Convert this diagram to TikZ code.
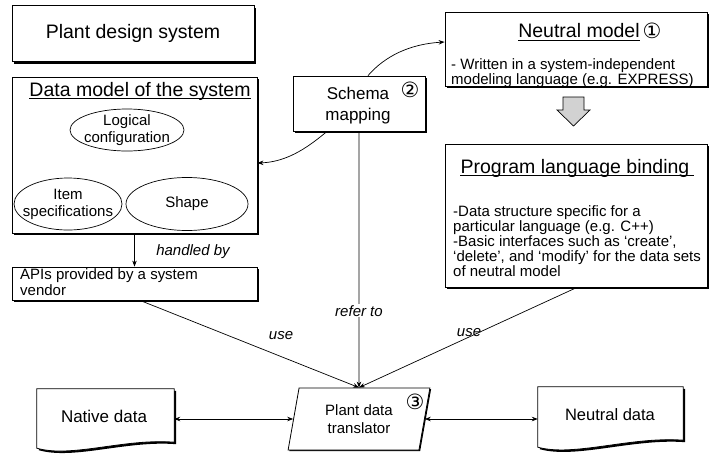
\documentclass[tikz,border=0pt]{standalone}
\usepackage{fontspec}
\setmainfont{Liberation Sans}
\newfontfamily\circfont{DejaVu Sans}
\usetikzlibrary{shapes.geometric,shadows,calc,arrows.meta}
\begin{document}
\begin{tikzpicture}[x=1pt,y=-1pt,
  shad/.style={drop shadow={shadow xshift=2pt,shadow yshift=-2pt,fill=black,opacity=1}},
  box/.style={draw,line width=0.8pt,fill=white,rectangle,inner sep=0pt,shad},
  ell/.style={draw,line width=0.7pt,ellipse,inner sep=0pt},
  elltxt/.style={inner sep=0pt,align=center,font=\fontsize{15}{17}\selectfont},
  ttl/.style={inner sep=0pt,font=\fontsize{19.5}{22}\selectfont},
  body/.style={inner sep=0pt,align=left,anchor=north west,font=\fontsize{15}{15}\selectfont},
  lbl/.style={inner sep=1pt,font=\fontsize{15}{15}\selectfont\itshape},
  arr/.style={line width=0.7pt,-{Stealth[length=6pt,width=4.5pt]}},
  darr/.style={line width=0.7pt,{Stealth[length=6pt,width=4.5pt]}-{Stealth[length=6pt,width=4.5pt]}},
  circ/.style={inner sep=0pt,font=\circfont\fontsize{21}{21}\selectfont},
]
\useasboundingbox[fill=white] (0,0) rectangle (713,453);

% Plant design system
\node[box,minimum width=242pt,minimum height=56pt,ttl] (pds) at (133,33.5) {Plant design system};

% Data model box
\node[box,minimum width=245pt,minimum height=156pt] (dm) at (134.5,155) {};
\node[ttl] (dmtitle) at (140,91) {Data model of the system};
\draw[line width=0.7pt] ([yshift=-2.5pt]dmtitle.base west) -- ([yshift=-2.5pt]dmtitle.base east);
\node[ell,minimum width=114pt,minimum height=42pt] (logic) at (127,130) {};
\node[elltxt] (logictxt) at (logic) {Logical\\configuration};
\node[ell,minimum width=108pt,minimum height=52pt] (item) at (68,204) {};
\node[elltxt] (itemtxt) at (item) {Item\\specifications};
\node[ell,minimum width=122pt,minimum height=53pt] (shape) at (187,204) {};
\node[elltxt] (shapetxt) at (shape) {Shape};

% Schema mapping
\node[box,minimum width=132pt,minimum height=55pt] (schema) at (359,103.5) {};
\node[inner sep=0pt,align=center,font=\fontsize{17}{21}\selectfont] (schematxt) at (358,106) {Schema\\mapping};
\node[circ] (c2) at (410,90) {②};

% Neutral model
\node[box,minimum width=262pt,minimum height=74pt] (nm) at (576,49) {};
\node[ttl] (nmtitle) at (579,31) {Neutral model};
\draw[line width=0.7pt] ([yshift=-2.5pt]nmtitle.base west) -- ([yshift=-2.5pt]nmtitle.base east);
\node[circ] (c1) at (652,31) {①};
\node[body] (nmbody) at (451,58) {- Written in a system-independent\\modeling language (e.g. EXPRESS)};

% gray block arrow
\draw[line width=0.7pt,fill=gray!35] (563,97) -- (584,97) -- (584,110) -- (590,110) -- (573.5,126) -- (557,110) -- (563,110) -- cycle;

% Program language binding
\node[box,minimum width=262pt,minimum height=143pt] (plb) at (576,215.5) {};
\node[ttl] (plbtitle) at (575,168) {Program language binding};
\draw[line width=0.7pt] ([yshift=-2.5pt]plbtitle.base west) -- ([yshift=-2.5pt,xshift=4pt]plbtitle.base east);
\node[body] (plbbody) at (453,205) {-Data structure specific for a\\particular language (e.g. C++)\\-Basic interfaces such as ‘create’,\\‘delete’, and ‘modify’ for the data sets\\of neutral model};

% APIs
\node[box,minimum width=245pt,minimum height=33pt] (apis) at (134.5,283.5) {};
\node[body,font=\fontsize{15}{16.5}\selectfont] (apistxt) at (20,268) {APIs provided by a system\\vendor};

% Translator
\node[trapezium,trapezium left angle=78,trapezium right angle=102,trapezium stretches=true,
      minimum width=142pt,minimum height=62pt,draw,line width=0.8pt,fill=white,inner sep=0pt,
      drop shadow={shadow xshift=1.2pt,shadow yshift=-1.2pt,fill=black,opacity=1},
      align=center,font=\fontsize{15}{18}\selectfont] (trans) at (359,419) {Plant data\\translator};
\node[circ] (c3) at (415,402) {③};

% Native data
\node[minimum width=137pt,minimum height=59pt,inner sep=0pt] (native) at (105.5,418.5) {};
\draw[line width=0.8pt,fill=white,shad] (native.north west) -- (native.north east) -- ($(native.south east)+(0,-6)$)
  .. controls ($(native.south east)+(-50,-10)$) and ($(native.south west)+(35,10)$) .. (native.south west) -- cycle;
\node[inner sep=0pt,font=\fontsize{17}{20}\selectfont] (nativetxt) at (104,416) {Native data};

% Neutral data
\node[minimum width=145pt,minimum height=60pt,inner sep=0pt] (neutrald) at (610.5,417) {};
\draw[line width=0.8pt,fill=white,shad] (neutrald.north west) -- (neutrald.north east) -- ($(neutrald.south east)+(0,-7)$)
  .. controls ($(neutrald.south east)+(-52,-11)$) and ($(neutrald.south west)+(36,10)$) .. (neutrald.south west) -- cycle;
\node[inner sep=0pt,font=\fontsize{16.5}{20}\selectfont] (neutraltxt) at (610,415) {Neutral data};

% connectors
\draw[arr] (dm.south) -- (apis.north);
\node[lbl] (handled) at (193,252) {handled by};
\draw[arr] ($(schema.north)+(9,0)$) .. controls (385,56) and (410,44) .. ($(nm.west)+(0,-7)$);
\draw[arr] ($(schema.south)+(-32,0)$) .. controls (305,150) and (285,162) .. ($(dm.east)+(0,8)$);
\draw[arr] (schema.south) -- (trans.north) node[lbl,fill=white,pos=0.70] (referto) {refer to};
\draw[arr] ($(apis.south)+(5.5,0)$) -- (trans.north);
\draw[arr] ($(plb.south)+(1,0)$) -- (trans.north);
\node[lbl] (use1) at (281,336) {use};
\node[lbl] (use2) at (469,333) {use};
\draw[darr] (native.east |- trans.west) -- (trans.west);
\draw[darr] (trans.east) -- (trans.east -| neutrald.west);
\end{tikzpicture}
\end{document}
